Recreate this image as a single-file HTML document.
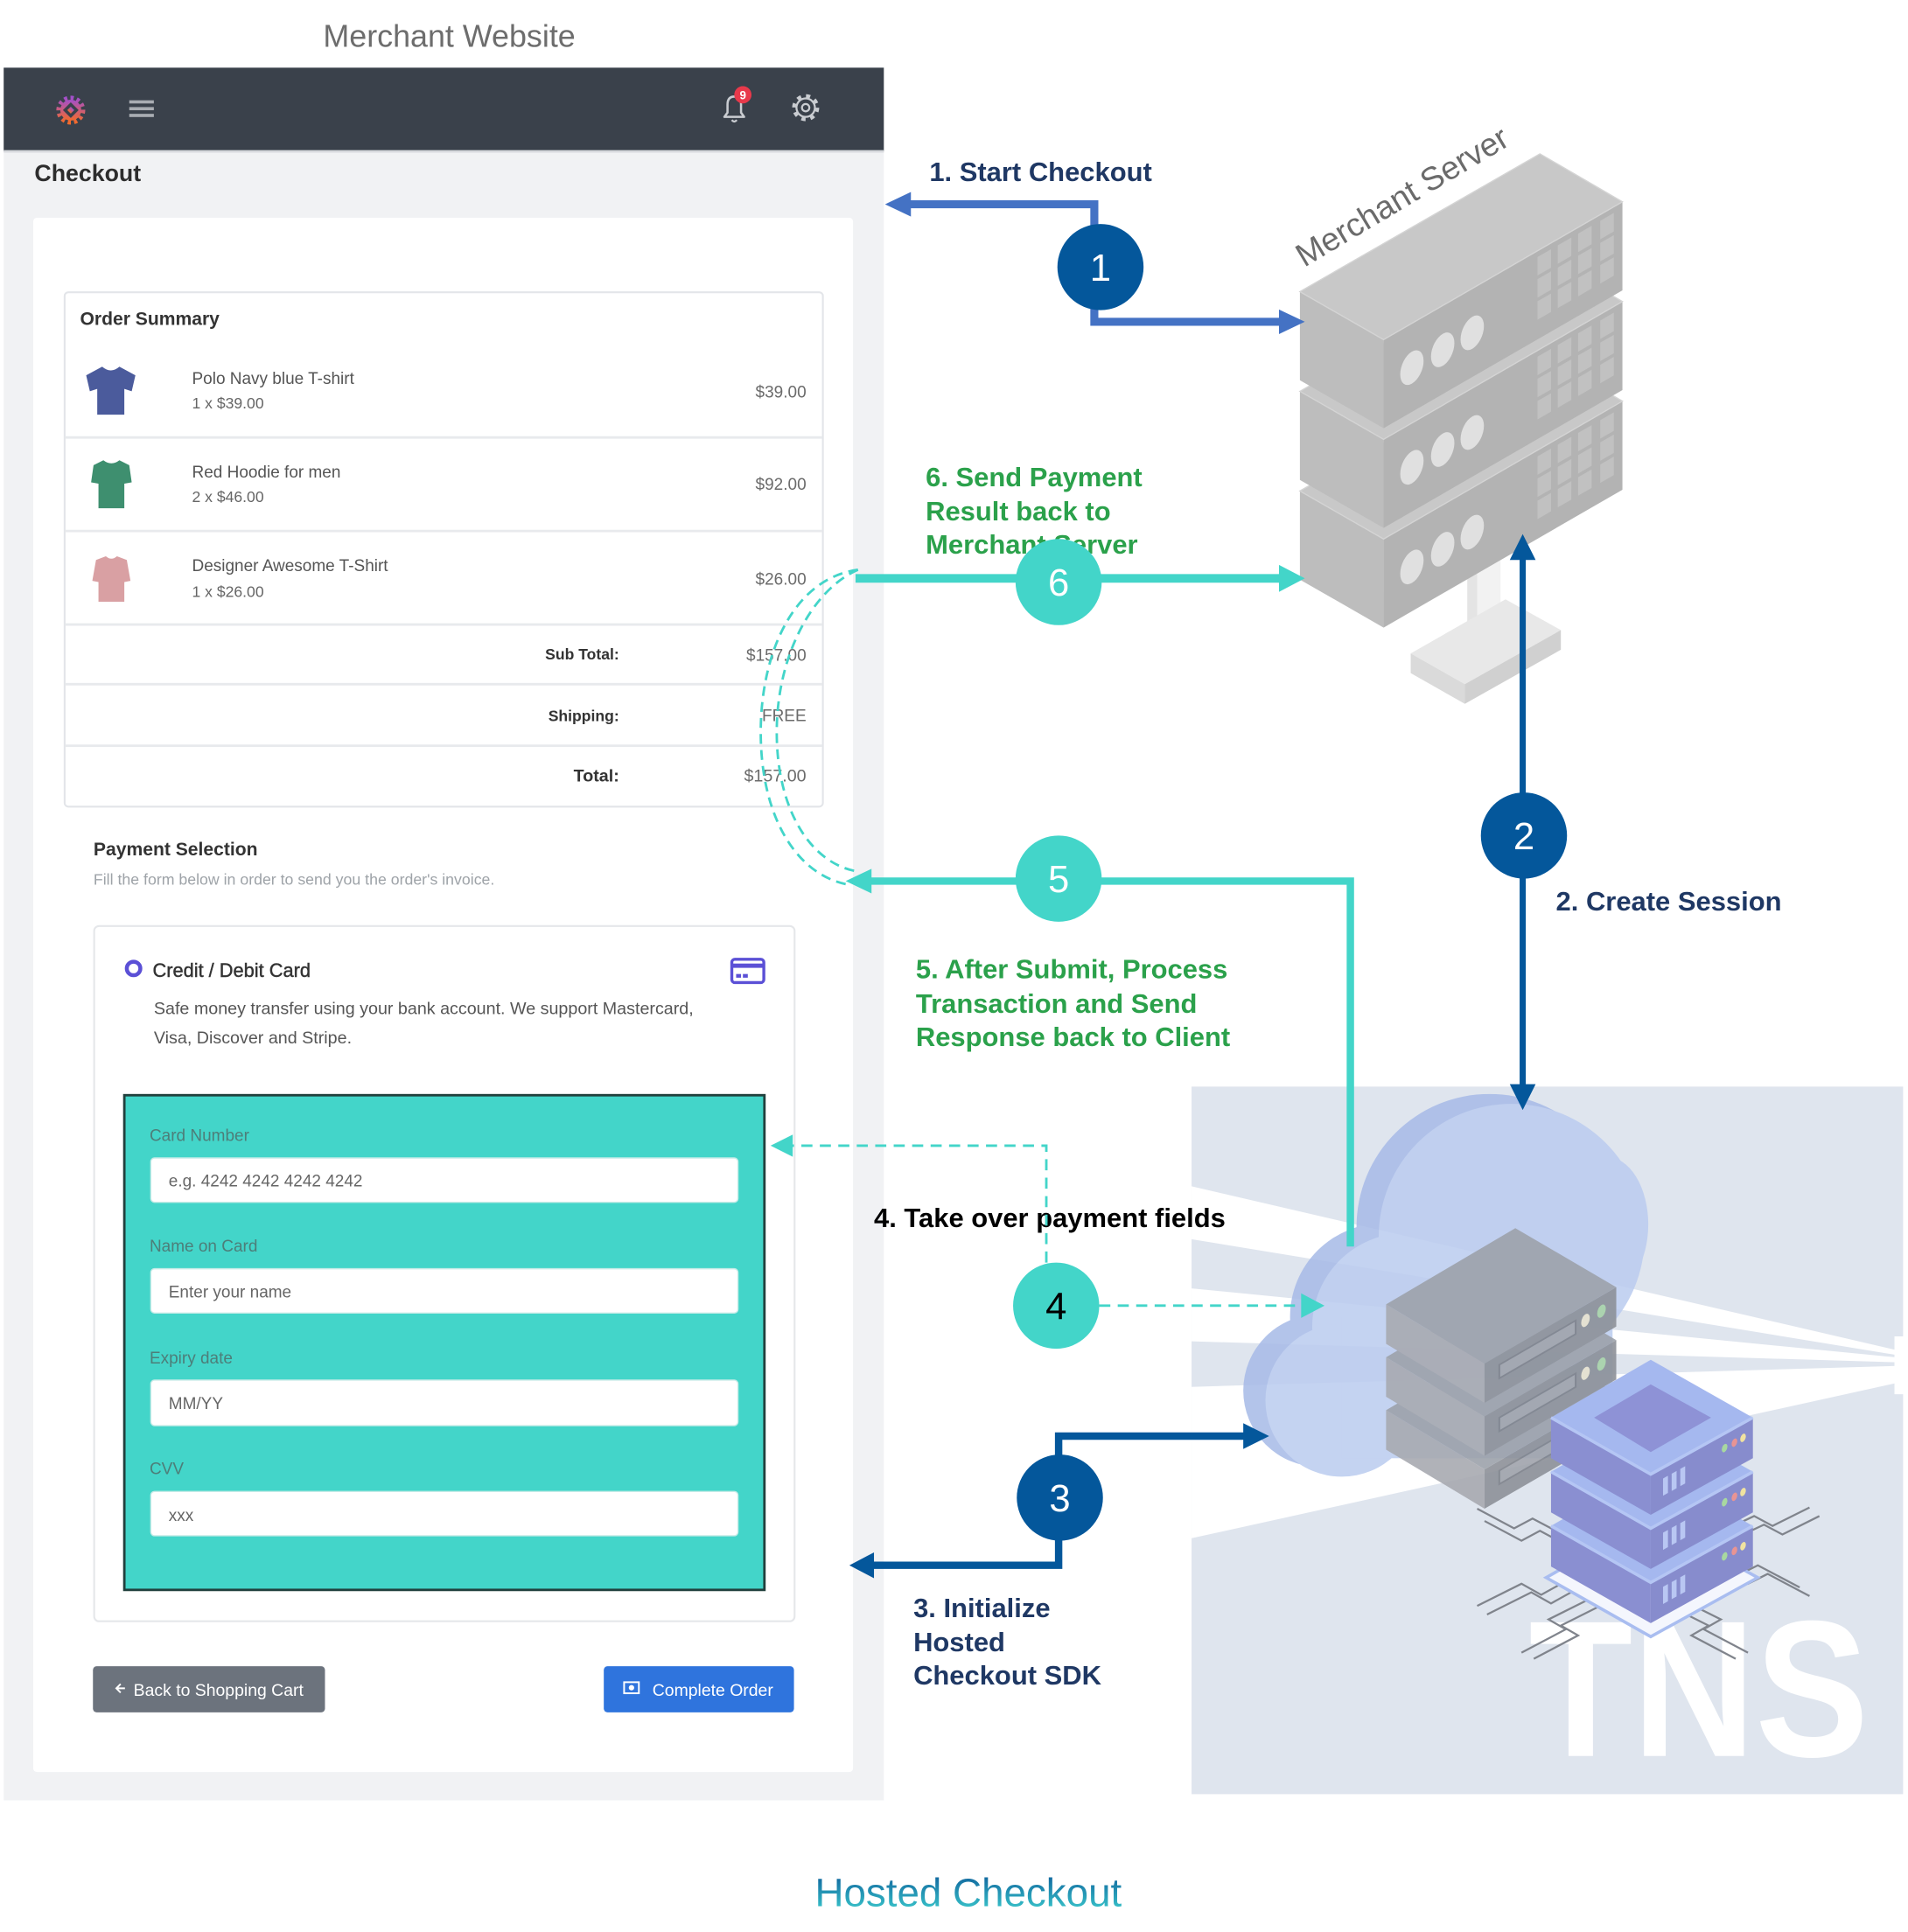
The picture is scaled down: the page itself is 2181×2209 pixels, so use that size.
<!DOCTYPE html>
<html><head><meta charset="utf-8"><style>
html,body{margin:0;padding:0;background:#fff;}
svg{display:block;}
text{font-family:"Liberation Sans",Arial,sans-serif;}
</style></head><body>
<svg xmlns="http://www.w3.org/2000/svg" width="2181" height="2209" viewBox="0 0 1550 1570" preserveAspectRatio="none">
<defs>
<linearGradient id="hc" x1="0" y1="0" x2="0" y2="1"><stop offset="0" stop-color="#0a5898"/><stop offset="1" stop-color="#3fd2d0"/></linearGradient>
<linearGradient id="lg" x1="0" y1="0" x2="0" y2="1"><stop offset="0" stop-color="#a34fcb"/><stop offset="1" stop-color="#f26a2c"/></linearGradient>
</defs>
<rect width="1550" height="1570" fill="#fff"/>

<!-- ===== Merchant website ===== -->
<text x="365" y="38" font-size="25.5" fill="#6d6d6d" text-anchor="middle">Merchant Website</text>
<rect x="3" y="55" width="715" height="1408" fill="#f1f2f4"/>
<rect x="3" y="55" width="715" height="68" fill="#3a414b"/>
<rect x="3" y="122" width="715" height="2" fill="#d7d9dd"/>
<!-- logo -->
<circle cx="57.5" cy="89.5" r="10" fill="none" stroke="url(#lg)" stroke-width="3.5" stroke-dasharray="2.6 2.6"/>
<circle cx="57.5" cy="89.5" r="8.5" fill="url(#lg)"/>
<rect x="53" y="85" width="9" height="9" fill="#3a414b" transform="rotate(45 57.5 89.5)"/>
<rect x="55.5" y="87.5" width="4" height="4" fill="url(#lg)" transform="rotate(45 57.5 89.5)"/>
<!-- hamburger -->
<rect x="105" y="81.5" width="20" height="2.6" fill="#a9adb3"/>
<rect x="105" y="87" width="20" height="2.6" fill="#a9adb3"/>
<rect x="105" y="92.5" width="20" height="2.6" fill="#a9adb3"/>
<!-- bell -->
<path d="M588.5,95 L604.5,95 L602,91.5 L602,85 Q602,78.5 596.5,78.5 Q591,78.5 591,85 L591,91.5 Z" fill="none" stroke="#c9ccd1" stroke-width="1.8" stroke-linejoin="round"/>
<path d="M594.5,97.5 Q596.5,100 598.5,97.5" fill="none" stroke="#c9ccd1" stroke-width="1.6"/>
<circle cx="603.5" cy="77" r="7" fill="#e8394b"/>
<text x="603.5" y="80.5" font-size="9.5" font-weight="bold" fill="#fff" text-anchor="middle">9</text>
<!-- gear -->
<circle cx="654.5" cy="87.5" r="9.5" fill="none" stroke="#c9ccd1" stroke-width="3" stroke-dasharray="3.4 4.06"/>
<circle cx="654.5" cy="87.5" r="7.5" fill="none" stroke="#c9ccd1" stroke-width="1.6"/>
<circle cx="654.5" cy="87.5" r="3" fill="none" stroke="#c9ccd1" stroke-width="1.6"/>

<text x="28" y="147" font-size="19" font-weight="bold" fill="#2d2d2d">Checkout</text>
<rect x="27" y="177" width="666" height="1263" rx="3" fill="#fff"/>

<!-- Order summary -->
<rect x="52.5" y="237.5" width="616" height="418" rx="3" fill="#fff" stroke="#e3e5e9" stroke-width="1.5"/>
<text x="65" y="264" font-size="15" font-weight="bold" fill="#333">Order Summary</text>
<g stroke="#e8eaed" stroke-width="2">
<line x1="53" y1="355.5" x2="668" y2="355.5"/>
<line x1="53" y1="431.5" x2="668" y2="431.5"/>
<line x1="53" y1="507.5" x2="668" y2="507.5"/>
<line x1="53" y1="556" x2="668" y2="556"/>
<line x1="53" y1="606" x2="668" y2="606"/>
</g>
<path d="M83,298 L70,305 L73,318 L79,316 L79,337 L101,337 L101,316 L107,318 L110,305 L97,298 Q90,304 83,298 Z" fill="#4b5b9c"/>
<path d="M84,374 L76,378 L74,392 L80,393 L80,413 L101,413 L101,393 L107,392 L105,378 L97,374 Q90.5,379 84,374 Z" fill="#3e8f6f"/>
<path d="M86,452 L78,455 L75,472 L80,473 L80,489 L101,489 L101,473 L106,472 L103,455 L95,452 Q90.5,456 86,452 Z" fill="#d9a0a3"/>
<g font-size="13.5" fill="#555">
<text x="156" y="312">Polo Navy blue T-shirt</text>
<text x="156" y="388">Red Hoodie for men</text>
<text x="156" y="464">Designer Awesome T-Shirt</text>
</g>
<g font-size="12.5" fill="#666">
<text x="156" y="332">1 x $39.00</text>
<text x="156" y="408">2 x $46.00</text>
<text x="156" y="485">1 x $26.00</text>
</g>
<g font-size="13.5" fill="#6b6b6b" text-anchor="end">
<text x="655" y="323">$39.00</text>
<text x="655" y="398">$92.00</text>
<text x="655" y="475">$26.00</text>
<text x="655" y="537">$157.00</text>
<text x="655" y="586">FREE</text>
<text x="655" y="635" font-size="14">$157.00</text>
</g>
<g font-size="12.5" font-weight="bold" fill="#333" text-anchor="end">
<text x="503" y="536">Sub Total:</text>
<text x="503" y="586">Shipping:</text>
<text x="503" y="635" font-size="14">Total:</text>
</g>

<!-- Payment selection -->
<text x="76" y="695" font-size="15" font-weight="bold" fill="#333">Payment Selection</text>
<text x="76" y="719" font-size="12.6" fill="#9ea3a8">Fill the form below in order to send you the order's invoice.</text>
<rect x="76.5" y="752.5" width="569" height="565" rx="4" fill="#fff" stroke="#e5e7ea" stroke-width="1.5"/>
<circle cx="108.5" cy="787" r="5.5" fill="#fff" stroke="#5b50d6" stroke-width="3.2"/>
<text x="124" y="794" font-size="15.5" fill="#333" stroke="#333" stroke-width="0.3">Credit / Debit Card</text>
<rect x="594.5" y="779.5" width="26" height="19" rx="2.5" fill="none" stroke="#5b50d6" stroke-width="2.4"/>
<rect x="595" y="783" width="25" height="3.5" fill="#5b50d6"/>
<rect x="598" y="791.5" width="4" height="3" fill="#5b50d6"/>
<rect x="603.5" y="791.5" width="4" height="3" fill="#5b50d6"/>
<text x="125" y="824" font-size="14" fill="#555">Safe money transfer using your bank account. We support Mastercard,</text>
<text x="125" y="848" font-size="14" fill="#555">Visa, Discover and Stripe.</text>

<rect x="101" y="890" width="520" height="402" fill="#43d5c9" stroke="#21403d" stroke-width="2"/>
<g font-size="13.5" fill="#4d7e79">
<text x="121.5" y="927">Card Number</text>
<text x="121.5" y="1017">Name on Card</text>
<text x="121.5" y="1108">Expiry date</text>
<text x="121.5" y="1198">CVV</text>
</g>
<g fill="#fff" stroke="#c6ebe7" stroke-width="1">
<rect x="122.5" y="941" width="477" height="36" rx="3"/>
<rect x="122.5" y="1031" width="477" height="36" rx="3"/>
<rect x="122.5" y="1121.5" width="477" height="37" rx="3"/>
<rect x="122.5" y="1212" width="477" height="36" rx="3"/>
</g>
<g font-size="13.5" fill="#666">
<text x="137" y="964">e.g. 4242 4242 4242 4242</text>
<text x="137" y="1054.5">Enter your name</text>
<text x="137" y="1145">MM/YY</text>
<text x="137" y="1236">xxx</text>
</g>

<!-- buttons -->
<rect x="75.5" y="1354" width="188.5" height="37.5" rx="3" fill="#6c737d"/>
<path d="M101.5,1372 L95,1372 M98,1368.5 L94.5,1372 L98,1375.5" fill="none" stroke="#fff" stroke-width="1.4"/>
<text x="108.5" y="1378" font-size="13.8" fill="#fff">Back to Shopping Cart</text>
<rect x="490.5" y="1354" width="154.5" height="37.5" rx="3" fill="#2f74dd"/>
<rect x="507" y="1367" width="12" height="9" fill="none" stroke="#fff" stroke-width="1.4"/>
<circle cx="513" cy="1371.5" r="2.2" fill="#fff"/>
<text x="530" y="1378" font-size="13.8" fill="#fff">Complete Order</text>

<!-- ===== Merchant server ===== -->
<g>
<rect x="1192" y="440" width="27" height="90" fill="#f2f2f2"/>
<rect x="1192" y="440" width="8" height="90" fill="#e4e4e4"/>
<polygon points="1146,531 1223,487 1268,512 1190,556" fill="#e8e8e8"/>
<polygon points="1146,531 1190,556 1190,572 1146,547" fill="#dadada"/>
<polygon points="1190,556 1268,512 1268,528 1190,572" fill="#d0d0d0"/>
</g>
<g id="ms">
<g transform="translate(0,162)">
<polygon points="1056,237 1124,276 1124,348 1056,309" fill="#bdbdbd"/>
<polygon points="1124,276 1318,164 1318,236 1124,348" fill="#b3b3b3"/>
<polygon points="1056,237 1251,125 1318,164 1124,276" fill="#c8c8c8" stroke="#d4d4d4" stroke-width="1"/>
<g transform="matrix(1,-0.577,0,1,1124,276)" fill="#e0e0e0">
<ellipse cx="23" cy="36" rx="9.5" ry="13"/><ellipse cx="48" cy="36" rx="9.5" ry="13"/><ellipse cx="72" cy="36" rx="9.5" ry="13"/>
<g fill="#c1c1c1"><rect x="125" y="5" width="11" height="15"/><rect x="141.5" y="5" width="11" height="15"/><rect x="158" y="5" width="11" height="15"/><rect x="176" y="5" width="11" height="15"/>
<rect x="125" y="23" width="11" height="15"/><rect x="141.5" y="23" width="11" height="15"/><rect x="158" y="23" width="11" height="15"/><rect x="176" y="23" width="11" height="15"/>
<rect x="125" y="41" width="11" height="15"/><rect x="141.5" y="41" width="11" height="15"/><rect x="158" y="41" width="11" height="15"/><rect x="176" y="41" width="11" height="15"/></g>
</g>
</g>
<g transform="translate(0,81)">
<polygon points="1056,237 1124,276 1124,348 1056,309" fill="#bdbdbd"/>
<polygon points="1124,276 1318,164 1318,236 1124,348" fill="#b3b3b3"/>
<polygon points="1056,237 1251,125 1318,164 1124,276" fill="#c8c8c8" stroke="#d4d4d4" stroke-width="1"/>
<g transform="matrix(1,-0.577,0,1,1124,276)" fill="#e0e0e0">
<ellipse cx="23" cy="36" rx="9.5" ry="13"/><ellipse cx="48" cy="36" rx="9.5" ry="13"/><ellipse cx="72" cy="36" rx="9.5" ry="13"/>
<g fill="#c1c1c1"><rect x="125" y="5" width="11" height="15"/><rect x="141.5" y="5" width="11" height="15"/><rect x="158" y="5" width="11" height="15"/><rect x="176" y="5" width="11" height="15"/>
<rect x="125" y="23" width="11" height="15"/><rect x="141.5" y="23" width="11" height="15"/><rect x="158" y="23" width="11" height="15"/><rect x="176" y="23" width="11" height="15"/>
<rect x="125" y="41" width="11" height="15"/><rect x="141.5" y="41" width="11" height="15"/><rect x="158" y="41" width="11" height="15"/><rect x="176" y="41" width="11" height="15"/></g>
</g>
</g>
<g>
<polygon points="1056,237 1124,276 1124,348 1056,309" fill="#bdbdbd"/>
<polygon points="1124,276 1318,164 1318,236 1124,348" fill="#b3b3b3"/>
<polygon points="1056,237 1251,125 1318,164 1124,276" fill="#c8c8c8" stroke="#d4d4d4" stroke-width="1"/>
<g transform="matrix(1,-0.577,0,1,1124,276)" fill="#e0e0e0">
<ellipse cx="23" cy="36" rx="9.5" ry="13"/><ellipse cx="48" cy="36" rx="9.5" ry="13"/><ellipse cx="72" cy="36" rx="9.5" ry="13"/>
<g fill="#c1c1c1"><rect x="125" y="5" width="11" height="15"/><rect x="141.5" y="5" width="11" height="15"/><rect x="158" y="5" width="11" height="15"/><rect x="176" y="5" width="11" height="15"/>
<rect x="125" y="23" width="11" height="15"/><rect x="141.5" y="23" width="11" height="15"/><rect x="158" y="23" width="11" height="15"/><rect x="176" y="23" width="11" height="15"/>
<rect x="125" y="41" width="11" height="15"/><rect x="141.5" y="41" width="11" height="15"/><rect x="158" y="41" width="11" height="15"/><rect x="176" y="41" width="11" height="15"/></g>
</g>
</g>
</g>
<text x="1059.5" y="217.5" font-size="26.5" fill="#6b6b6b" transform="rotate(-30.8 1059.5 217.5)">Merchant Server</text>

<!-- ===== TNS panel ===== -->
<rect x="968" y="883" width="578" height="575" fill="#dfe5ee"/>
<g fill="#fff">
<polygon points="968,964 1540,1097 1540,1101 968,1007"/>
<polygon points="968,1047 1540,1103 1540,1107 968,1090"/>
<polygon points="968,1127 1540,1110 1540,1124 968,1250"/>
<rect x="1539" y="1086" width="8" height="47"/>
</g>
<text x="1242" y="1427" font-size="158" font-weight="bold" fill="#fff" textLength="276" lengthAdjust="spacingAndGlyphs">TNS</text>

<!-- cloud -->
<g opacity="0.88">
<g fill="#a9bce8" transform="translate(-18,-8)">
<circle cx="1228" cy="1005" r="108"/><ellipse cx="1305" cy="995" rx="34" ry="55"/><circle cx="1142" cy="1078" r="76"/><circle cx="1090" cy="1138" r="62"/><rect x="1090" y="1070" width="220" height="115"/>
</g>
<g fill="#bccdf0">
<circle cx="1228" cy="1005" r="108"/><ellipse cx="1305" cy="995" rx="34" ry="55"/><circle cx="1142" cy="1078" r="76"/><circle cx="1090" cy="1138" r="62"/><rect x="1090" y="1070" width="220" height="115"/>
</g>
</g>

<!-- circuit lines -->
<g fill="none" stroke="#80848c" stroke-width="1.6">
<polyline points="1200,1226 1230,1242 1245,1234 1262,1243"/>
<polyline points="1206,1236 1236,1252 1251,1244 1266,1252"/>
<polyline points="1200,1305 1236,1287 1252,1296 1270,1286 1282,1292"/>
<polyline points="1208,1312 1244,1294 1260,1303 1278,1293 1290,1299"/>
<polyline points="1236,1343 1272,1324 1258,1316 1290,1300"/>
<polyline points="1246,1348 1282,1329 1268,1321 1298,1306"/>
<polyline points="1462,1290 1428,1272 1412,1280 1396,1272"/>
<polyline points="1470,1297 1436,1279 1420,1287 1404,1279"/>
<polyline points="1470,1225 1440,1240 1425,1232 1408,1240"/>
<polyline points="1478,1232 1448,1247 1433,1239 1416,1247"/>
<polyline points="1420,1343 1384,1324 1398,1316 1366,1300"/>
<polyline points="1410,1348 1374,1329 1388,1321 1358,1306"/>
</g>

<!-- grey server -->
<g opacity="0.9">
<g transform="translate(0,86)">
<polygon points="1126,1060 1206,1108 1206,1140 1126,1092" fill="#a8aab1"/>
<polygon points="1206,1108 1313,1046 1313,1078 1206,1140" fill="#8d9199"/>
<polygon points="1126,1060 1231,998 1313,1046 1206,1108" fill="#9da2ab"/>
<g transform="matrix(1,-0.5794,0,1,1206,1108)"><rect x="12" y="8" width="62" height="11" fill="#a0a4ac" stroke="#7d818a" stroke-width="1.5"/><ellipse cx="82" cy="12.5" rx="3.5" ry="5" fill="#e8e4cf"/><ellipse cx="95" cy="12.5" rx="3.5" ry="5" fill="#a9d4a9"/></g>
</g>
<g transform="translate(0,43)">
<polygon points="1126,1060 1206,1108 1206,1140 1126,1092" fill="#a8aab1"/>
<polygon points="1206,1108 1313,1046 1313,1078 1206,1140" fill="#8d9199"/>
<polygon points="1126,1060 1231,998 1313,1046 1206,1108" fill="#9da2ab"/>
<g transform="matrix(1,-0.5794,0,1,1206,1108)"><rect x="12" y="8" width="62" height="11" fill="#a0a4ac" stroke="#7d818a" stroke-width="1.5"/><ellipse cx="82" cy="12.5" rx="3.5" ry="5" fill="#e8e4cf"/><ellipse cx="95" cy="12.5" rx="3.5" ry="5" fill="#a9d4a9"/></g>
</g>
<g>
<polygon points="1126,1060 1206,1108 1206,1140 1126,1092" fill="#a8aab1"/>
<polygon points="1206,1108 1313,1046 1313,1078 1206,1140" fill="#8d9199"/>
<polygon points="1126,1060 1231,998 1313,1046 1206,1108" fill="#9da2ab"/>
<g transform="matrix(1,-0.5794,0,1,1206,1108)"><rect x="12" y="8" width="62" height="11" fill="#a0a4ac" stroke="#7d818a" stroke-width="1.5"/><ellipse cx="82" cy="12.5" rx="3.5" ry="5" fill="#e8e4cf"/><ellipse cx="95" cy="12.5" rx="3.5" ry="5" fill="#a9d4a9"/></g>
</g>
</g>

<!-- purple server -->
<polygon points="1256,1282 1341,1234 1428,1282 1341,1330" fill="#f4f6fd" stroke="#a9bdf0" stroke-width="2.5"/>
<g>
<g transform="translate(0,88)">
<polygon points="1260,1152 1341,1198 1341,1231 1260,1185" fill="#8a8fd1"/>
<polygon points="1341,1198 1424,1152 1424,1185 1341,1231" fill="#878ccd"/>
<polygon points="1260,1152 1341,1105 1424,1152 1341,1198" fill="#a5b8ef"/>
<polyline points="1260,1152 1341,1198 1424,1152" fill="none" stroke="#b5c6f4" stroke-width="2.5"/>
<g transform="matrix(1,-0.554,0,1,1341,1198)"><g fill="#b9c7f3"><rect x="10" y="9" width="4" height="14"/><rect x="17" y="9" width="4" height="14"/><rect x="24" y="9" width="4" height="14"/></g><ellipse cx="60" cy="12" rx="2.3" ry="3.2" fill="#a8d8a0"/><ellipse cx="68" cy="12" rx="2.3" ry="3.2" fill="#e89494"/><ellipse cx="75" cy="12" rx="2.3" ry="3.2" fill="#f0e2a0"/></g>
</g>
<g transform="translate(0,44)">
<polygon points="1260,1152 1341,1198 1341,1231 1260,1185" fill="#8a8fd1"/>
<polygon points="1341,1198 1424,1152 1424,1185 1341,1231" fill="#878ccd"/>
<polygon points="1260,1152 1341,1105 1424,1152 1341,1198" fill="#a5b8ef"/>
<polyline points="1260,1152 1341,1198 1424,1152" fill="none" stroke="#b5c6f4" stroke-width="2.5"/>
<g transform="matrix(1,-0.554,0,1,1341,1198)"><g fill="#b9c7f3"><rect x="10" y="9" width="4" height="14"/><rect x="17" y="9" width="4" height="14"/><rect x="24" y="9" width="4" height="14"/></g><ellipse cx="60" cy="12" rx="2.3" ry="3.2" fill="#a8d8a0"/><ellipse cx="68" cy="12" rx="2.3" ry="3.2" fill="#e89494"/><ellipse cx="75" cy="12" rx="2.3" ry="3.2" fill="#f0e2a0"/></g>
</g>
<g>
<polygon points="1260,1152 1341,1198 1341,1231 1260,1185" fill="#8a8fd1"/>
<polygon points="1341,1198 1424,1152 1424,1185 1341,1231" fill="#878ccd"/>
<polygon points="1260,1152 1341,1105 1424,1152 1341,1198" fill="#a5b8ef"/>
<polygon points="1295,1152 1341,1125 1390,1152 1341,1180" fill="#8e92d6"/>
<polyline points="1260,1152 1341,1198 1424,1152" fill="none" stroke="#b5c6f4" stroke-width="2.5"/>
<g transform="matrix(1,-0.554,0,1,1341,1198)"><g fill="#b9c7f3"><rect x="10" y="9" width="4" height="14"/><rect x="17" y="9" width="4" height="14"/><rect x="24" y="9" width="4" height="14"/></g><ellipse cx="60" cy="12" rx="2.3" ry="3.2" fill="#a8d8a0"/><ellipse cx="68" cy="12" rx="2.3" ry="3.2" fill="#e89494"/><ellipse cx="75" cy="12" rx="2.3" ry="3.2" fill="#f0e2a0"/></g>
</g>
</g>

<!-- ===== Labels ===== -->
<g font-size="22" font-weight="bold">
<text x="755" y="147" fill="#1f3864">1. Start Checkout</text>
<text x="752" y="395" fill="#2ba14b">6. Send Payment</text>
<text x="752" y="423" fill="#2ba14b">Result back to</text>
<text x="752" y="450" fill="#2ba14b">Merchant Server</text>
<text x="1264" y="740" fill="#1f3864">2. Create Session</text>
<text x="744" y="795" fill="#2ba14b">5. After Submit, Process</text>
<text x="744" y="823" fill="#2ba14b">Transaction and Send</text>
<text x="744" y="850" fill="#2ba14b">Response back to Client</text>
<text x="710" y="997" fill="#000">4. Take over payment fields</text>
<text x="742" y="1314" fill="#1f3864">3. Initialize</text>
<text x="742" y="1342" fill="#1f3864">Hosted</text>
<text x="742" y="1369" fill="#1f3864">Checkout SDK</text>
</g>

<!-- ===== Connectors ===== -->
<!-- 1 -->
<polyline points="889,190 889,166 736,166" fill="none" stroke="#4472c4" stroke-width="6.5"/>
<polygon points="719,166 740,156 740,176" fill="#4472c4"/>
<polyline points="889,245 889,261.5 1042,261.5" fill="none" stroke="#4472c4" stroke-width="6.5"/>
<polygon points="1060,261.5 1039,251.5 1039,271.5" fill="#4472c4"/>
<circle cx="894" cy="217" r="35" fill="#04579b"/>
<text x="894" y="228" font-size="31" fill="#fff" text-anchor="middle">1</text>
<!-- 2 -->
<line x1="1237" y1="452" x2="1237" y2="884" stroke="#04579b" stroke-width="5"/>
<polygon points="1237,434 1226.5,455 1247.5,455" fill="#04579b"/>
<polygon points="1237,902 1226.5,881 1247.5,881" fill="#04579b"/>
<circle cx="1238" cy="679" r="35" fill="#04579b"/>
<text x="1238" y="690" font-size="31" fill="#fff" text-anchor="middle">2</text>
<!-- 6 -->
<line x1="695" y1="470" x2="1042" y2="470" stroke="#43d5c9" stroke-width="7"/>
<polygon points="1060,470 1039,459 1039,481" fill="#43d5c9"/>
<circle cx="860" cy="473" r="35" fill="#43d5c9"/>
<text x="860" y="484" font-size="31" fill="#fff" text-anchor="middle">6</text>
<!-- dashed curves -->
<path d="M697,463 C645,470 618,530 618,595 C618,665 648,712 690,719" fill="none" stroke="#43d5c9" stroke-width="2" stroke-dasharray="8 5"/>
<path d="M697,463 C662,478 631,530 631,595 C631,660 660,702 696,708" fill="none" stroke="#43d5c9" stroke-width="2" stroke-dasharray="8 5"/>
<!-- 5 -->
<polyline points="1097,1013 1097,716 704,716" fill="none" stroke="#43d5c9" stroke-width="6"/>
<polygon points="687,716 708,706 708,726" fill="#43d5c9"/>
<circle cx="860" cy="714" r="35" fill="#43d5c9"/>
<text x="860" y="725" font-size="31" fill="#fff" text-anchor="middle">5</text>
<!-- 4 -->
<polyline points="850,1026 850,931 642,931" fill="none" stroke="#43d5c9" stroke-width="2" stroke-dasharray="9 6"/>
<polygon points="626,931 644,922 644,940" fill="#43d5c9"/>
<line x1="893" y1="1061" x2="1058" y2="1061" stroke="#43d5c9" stroke-width="2" stroke-dasharray="9 6"/>
<polygon points="1076,1061 1057,1051 1057,1071" fill="#43d5c9"/>
<circle cx="858" cy="1061" r="35" fill="#43d5c9"/>
<text x="858" y="1072" font-size="31" fill="#000" text-anchor="middle">4</text>
<!-- 3 -->
<polyline points="860,1190 860,1167 1013,1167" fill="none" stroke="#04579b" stroke-width="6"/>
<polygon points="1031,1167 1010,1156.5 1010,1177.5" fill="#04579b"/>
<polyline points="860,1245 860,1272 708,1272" fill="none" stroke="#04579b" stroke-width="6"/>
<polygon points="690,1272 710,1261.5 710,1282.5" fill="#04579b"/>
<circle cx="861" cy="1217" r="35" fill="#04579b"/>
<text x="861" y="1228" font-size="31" fill="#fff" text-anchor="middle">3</text>

<!-- bottom title -->
<text x="662" y="1549" font-size="32.5" fill="url(#hc)">Hosted Checkout</text>
</svg>
</body></html>
